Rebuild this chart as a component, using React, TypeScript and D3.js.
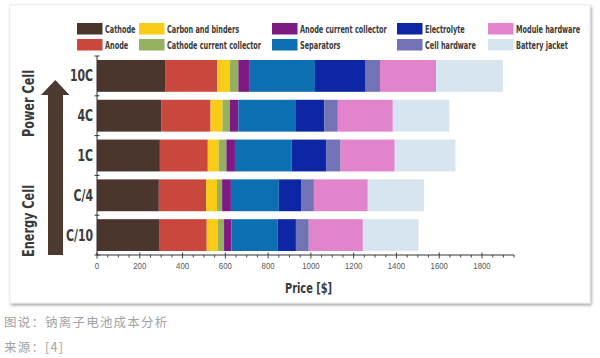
import React from "react";
import * as d3 from "d3";

const categories = ["10C", "4C", "1C", "C/4", "C/10"];
const components = [
  "Cathode",
  "Anode",
  "Carbon and binders",
  "Cathode current collector",
  "Anode current collector",
  "Separators",
  "Electrolyte",
  "Cell hardware",
  "Module hardware",
  "Battery jacket",
];
// values per category (10C, 4C, 1C, C/4, C/10), in $
const cathode = [321, 302, 294, 289, 290];
const anode = [240, 229, 224, 221, 223];
const carbonBinders = [60, 56, 51, 51, 52];
const cathodeCollector = [40, 34, 36, 24, 29];
const anodeCollector = [50, 40, 40, 41, 35];
const separators = [308, 266, 265, 224, 216];
const electrolyte = [237, 136, 163, 104, 85];
const cellHardware = [67, 63, 66, 60, 60];
const moduleHardware = [262, 257, 253, 252, 253];
const batteryJacket = [313, 264, 284, 263, 260];
const xTickLabels = [0, 200, 400, 600, 800, 1000, 1200, 1400, 1600, 1800];

const seriesValues = [
  cathode, anode, carbonBinders, cathodeCollector, anodeCollector,
  separators, electrolyte, cellHardware, moduleHardware, batteryJacket,
];
const colors = [
  "#4a362d", "#c9473d", "#f9cd17", "#93b15e", "#7d1b83",
  "#0b6fb2", "#0d26a3", "#7272b7", "#e184cb", "#d6e5ef",
];

const W = 600;
const H = 358;
const plotLeft = 97;
const axisY = 255;
const axisTop = 56;

export default function App() {
  const x = d3.scaleLinear().domain([0, 1800]).range([plotLeft, 482]);
  const y = d3
    .scaleBand<string>()
    .domain(categories)
    .range([axisTop, axisY])
    .paddingInner(0.2)
    .paddingOuter(0.1);

  const table = categories.map((c, i) => {
    const row: Record<string, any> = { cat: c };
    components.forEach((k, j) => (row[k] = seriesValues[j][i]));
    return row;
  });
  const stacked = d3.stack<any>().keys(components)(table);

  const minorTicks = d3.range(0, 1951, 50);
  const step = y.step();
  const boundaries = d3.range(0, categories.length + 1).map((i) => axisTop + i * step);

  const legendCols = [77, 139, 272, 397, 488];
  const legendRows = [23, 39];
  const condensed = "'DejaVu Sans Condensed', 'DejaVu Sans', sans-serif";
  const sx = 0.66;

  return (
    <div style={{ position: "absolute", left: 0, top: 0, width: W, height: H, background: "#fff" }}>
      <svg width={W} height={H} style={{ display: "block" }}>
        <defs>
          <filter id="sh" x="-5%" y="-5%" width="110%" height="115%">
            <feDropShadow dx="1.2" dy="1.8" stdDeviation="1.4" floodColor="#000" floodOpacity="0.38" />
          </filter>
        </defs>
        <rect x={10} y={5} width={580} height={298} fill="#fff" filter="url(#sh)" stroke="#e6e6e6" strokeWidth={0.8} />

        {/* legend */}
        {components.map((k, i) => {
          const cx = legendCols[Math.floor(i / 2)];
          const cy = legendRows[i % 2];
          return (
            <g key={k}>
              <rect x={cx} y={cy} width={25.5} height={11.5} fill={colors[i]} />
              <text
                transform={`translate(${cx + 28},${cy + 10}) scale(${sx},1)`}
                fontFamily={condensed}
                fontWeight="bold"
                fontSize={11}
                fill="#3a3a3a"
              >
                {k}
              </text>
            </g>
          );
        })}

        {/* bars */}
        {stacked.map((s, i) => (
          <g key={s.key} fill={colors[i]}>
            {s.map((d) => (
              <rect
                key={d.data.cat}
                x={x(d[0])}
                y={y(d.data.cat)}
                width={x(d[1]) - x(d[0])}
                height={y.bandwidth()}
              />
            ))}
          </g>
        ))}

        {/* y axis */}
        <line x1={plotLeft} x2={plotLeft} y1={axisTop} y2={axisY} stroke="#333" strokeWidth={1} />
        {boundaries.map((b, i) => (
          <line key={i} x1={plotLeft - 2.5} x2={plotLeft + 2.5} y1={b} y2={b} stroke="#333" strokeWidth={1} />
        ))}
        {categories.map((c) => (
          <text
            key={c}
            transform={`translate(93,${(y(c) as number) + y.bandwidth() / 2}) scale(0.78,1)`}
            textAnchor="end"
            dy="0.36em"
            fontFamily={condensed}
            fontWeight="bold"
            fontSize={15.5}
            fill="#3a3a3a"
          >
            {c}
          </text>
        ))}

        {/* x axis */}
        <line x1={plotLeft} x2={x(1950)} y1={axisY} y2={axisY} stroke="#333" strokeWidth={1} />
        {minorTicks.map((t) => {
          const major = xTickLabels.includes(t);
          return (
            <line
              key={t}
              x1={x(t)}
              x2={x(t)}
              y1={major ? axisY - 2.5 : axisY}
              y2={major ? axisY + 3.5 : axisY + 2.5}
              stroke="#333"
              strokeWidth={0.9}
            />
          );
        })}
        {xTickLabels.map((t) => (
          <text
            key={t}
            transform={`translate(${x(t)},269) scale(0.82,1)`}
            textAnchor="middle"
            fontFamily="'Liberation Sans', Arial, sans-serif"
            fontSize={9.5}
            fill="#555"
          >
            {t}
          </text>
        ))}
        <text
          transform={`translate(308.5,293) scale(0.78,1)`}
          textAnchor="middle"
          fontFamily={condensed}
          fontWeight="bold"
          fontSize={14}
          fill="#3a3a3a"
        >
          Price [$]
        </text>

        {/* side annotations */}
        <path
          d={`M48,${axisY} L48,95 L41,95 L55.3,80 L69.5,95 L63,95 L63,${axisY} Z`}
          fill="#4b3a30"
        />
        <text
          transform="translate(28,103.5) rotate(-90)"
          textAnchor="middle"
          dy="0.36em"
          fontFamily={condensed}
          fontWeight="bold"
          fontSize={16}
          textLength={67}
          lengthAdjust="spacingAndGlyphs"
          fill="#3a3a3a"
        >
          Power Cell
        </text>
        <text
          transform="translate(28,221) rotate(-90)"
          textAnchor="middle"
          dy="0.36em"
          fontFamily={condensed}
          fontWeight="bold"
          fontSize={16}
          textLength={72}
          lengthAdjust="spacingAndGlyphs"
          fill="#3a3a3a"
        >
          Energy Cell
        </text>

        {/* caption */}
        <text x={4} y={327} fontFamily="'Noto Sans CJK SC', sans-serif" fontSize={12.5} letterSpacing={1.2} fill="#a3a3a3">
          图说：钠离子电池成本分析
        </text>
        <text x={4} y={352} fontFamily="'Noto Sans CJK SC', sans-serif" fontSize={12.5} letterSpacing={1.2} fill="#a3a3a3">
          来源：[4]
        </text>
      </svg>
    </div>
  );
}
